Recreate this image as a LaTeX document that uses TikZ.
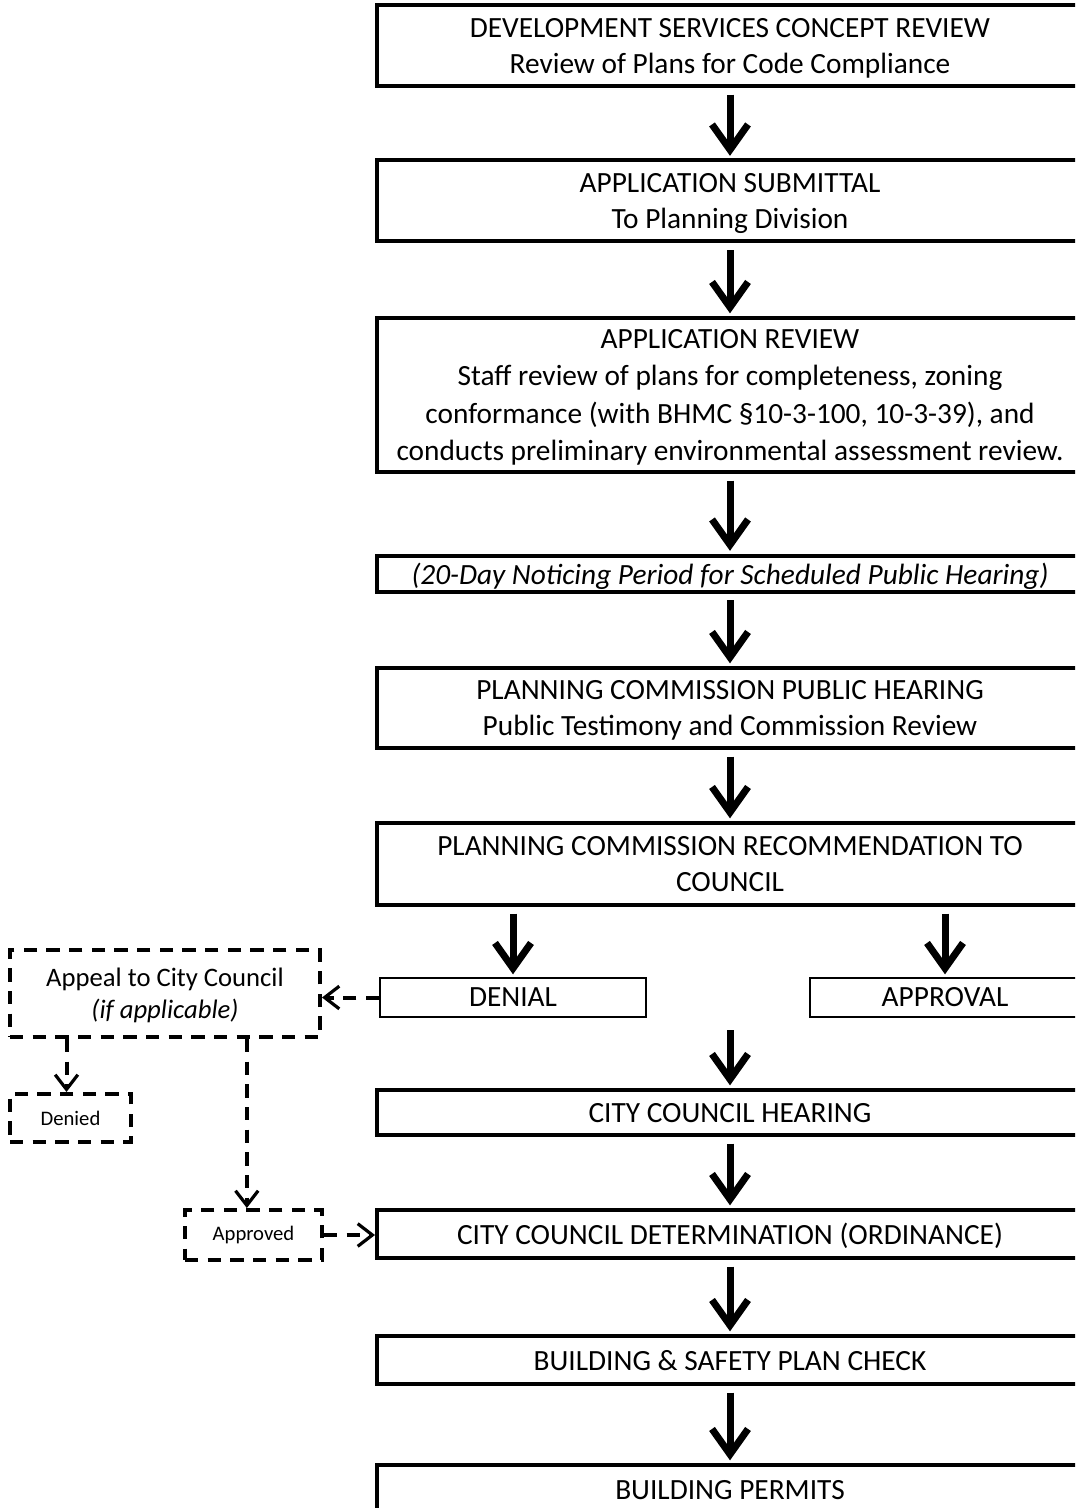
\documentclass[tikz,border=0pt]{standalone}
\usepackage{fontspec}
\setmainfont{Carlito}
\usetikzlibrary{arrows.meta,positioning}

\begin{document}
\begin{tikzpicture}[x=0.75pt,y=-0.75pt]
		\tikzstyle {stage} = [draw, line width=3pt, minimum width=529.5pt, inner sep=0pt, align=center, text depth=0pt, font=\fontsize{22}{27}\selectfont]
		\tikzstyle {outcome} = [draw, line width=1.5pt, minimum height=29.25pt, inner sep=0pt, font=\fontsize{22}{27}\selectfont]
		\tikzstyle {appeal box} = [draw, line width=3pt, dash pattern=on 10pt off 7pt, inner sep=0pt, align=center]
		\tikzstyle {flow} = [line width=5.25pt, -{Straight Barb[length=19pt,width=27pt]}, shorten <=5pt, shorten >=2pt]
		\tikzstyle {dash flow} = [line width=3pt, dash pattern=on 10pt off 7pt, -{Straight Barb[length=11pt,width=17pt,line width=2.4pt]}]

		\clip (0,0) rectangle (1075,1508);

		% main sequence
		\node[stage, minimum height=60.75pt] (concept) at (730,45.5) {DEVELOPMENT SERVICES CONCEPT REVIEW\\Review of Plans for Code Compliance};
		\node[stage, minimum height=60.75pt] (submittal) at (730,201) {APPLICATION SUBMITTAL\\To Planning Division};
		\node[stage, minimum height=115.5pt, text depth=-5pt, font=\fontsize{22}{28}\selectfont] (review) at (730,395) {APPLICATION REVIEW\\Staff review of plans for completeness, zoning\\conformance (with BHMC \S10-3-100, 10-3-39), and\\conducts preliminary environmental assessment review.};
		\node[stage, minimum height=27pt, text depth=-2pt] (notice) at (730,573.5) {\itshape (20-Day Noticing Period for Scheduled Public Hearing)};
		\node[stage, minimum height=60pt] (hearing) at (730,708) {PLANNING COMMISSION PUBLIC HEARING\\Public Testimony and Commission Review};
		\node[stage, minimum height=61.5pt] (recommend) at (730,864) {PLANNING COMMISSION RECOMMENDATION TO\\COUNCIL};

		\node[outcome, minimum width=199.5pt] (denial) at (513,997.5) {DENIAL};
		\node[outcome, minimum width=202.5pt] (approval) at (945,997.5) {APPROVAL};

		\node[stage, minimum height=33.75pt] (council) at (730,1112.5) {CITY COUNCIL HEARING};
		\node[stage, minimum height=36pt] (determination) at (730,1234) {CITY COUNCIL DETERMINATION (ORDINANCE)};
		\node[stage, minimum height=36pt] (plancheck) at (730,1360) {BUILDING \& SAFETY PLAN CHECK};
		\node[stage, minimum height=37.5pt] (permits) at (730,1490) {BUILDING PERMITS};

		% appeal branch
		\node[appeal box, minimum width=232.5pt, minimum height=65.25pt, text depth=0pt, font=\fontsize{20}{24}\selectfont] (appeal) at (165,993.5) {Appeal to City Council\\\itshape (if applicable)};
		\node[appeal box, minimum width=90.75pt, minimum height=36pt, font=\fontsize{15.5}{18}\selectfont] (denied) at (70.5,1118) {Denied};
		\node[appeal box, minimum width=102.75pt, minimum height=37.5pt, font=\fontsize{15.5}{18}\selectfont] (approved) at (253.5,1235) {Approved};

		\draw[flow] (concept) -- (submittal);
		\draw[flow] (submittal) -- (review);
		\draw[flow] (review) -- (notice);
		\draw[flow] (notice) -- (hearing);
		\draw[flow] (hearing) -- (recommend);
		\draw[flow] (denial.north |- recommend.south) -- (denial.north);
		\draw[flow] (approval.north |- recommend.south) -- (approval.north);
		\draw[flow] ([yshift=-4pt]council.north |- denial.south) -- (council.north);
		\draw[flow] (council) -- (determination);
		\draw[flow] (determination) -- (plancheck);
		\draw[flow] (plancheck) -- (permits);

		\draw[dash flow] (denial.west) -- (denial.west -| appeal.east);
		\draw[dash flow] ([xshift=-3pt]denied.north |- appeal.south) -- ([xshift=-3pt]denied.north);
		\draw[dash flow] ([xshift=-5pt]approved.north |- appeal.south) -- ([xshift=-5pt]approved.north);
		\draw[dash flow] (approved.east) -- (approved.east -| determination.west);
\end{tikzpicture}
\end{document}
